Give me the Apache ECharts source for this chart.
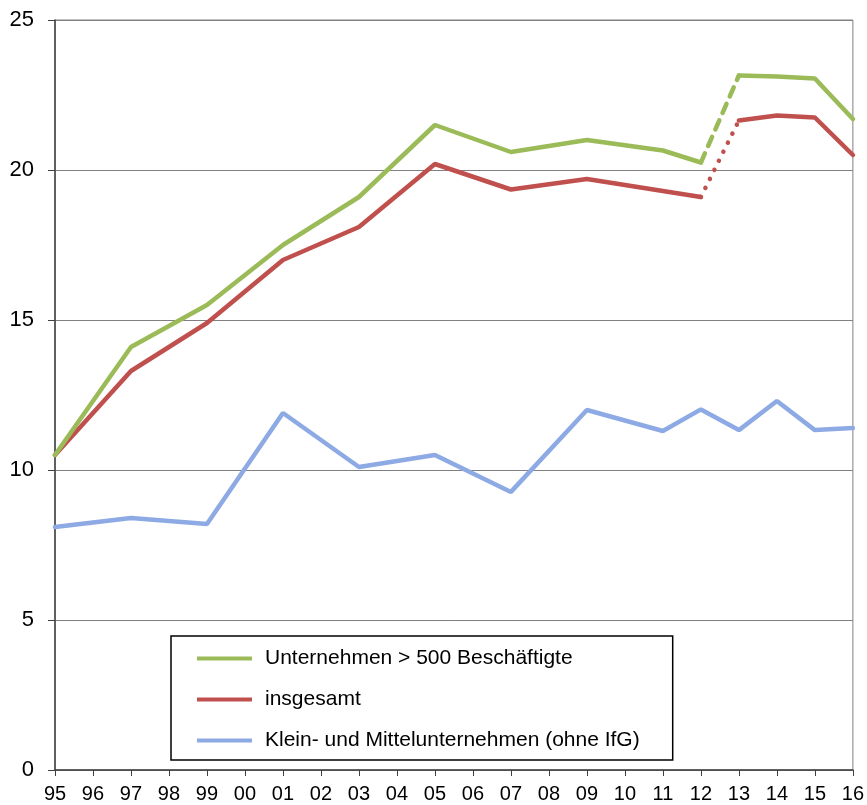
<!DOCTYPE html>
<html>
<head>
<meta charset="utf-8">
<script src="https://cdn.jsdelivr.net/npm/echarts@6/dist/echarts.min.js"></script>
<style>
  html, body { margin: 0; padding: 0; background: #fff; }
  #main { width: 867px; height: 805px; }
</style>
</head>
<body>
<div id="main"></div>
<script>
// Jahre 1995 - 2016
const years = ['95', '96', '97', '98', '99', '00', '01', '02', '03', '04', '05',
  '06', '07', '08', '09', '10', '11', '12', '13', '14', '15', '16']

// Werte (nur ungerade Jahre bis 2011, danach jährlich)
const grossUnternehmen = [10.5, null, 14.1, null, 15.5, null, 17.5, null, 19.1, null, 21.5,
  null, 20.6, null, 21.0, null, 20.65, 20.25, 23.15, 23.12, 23.05, 21.7]
const insgesamt = [10.5, null, 13.3, null, 14.9, null, 17.0, null, 18.1, null, 20.2,
  null, 19.35, null, 19.7, null, 19.3, 19.1, 21.65, 21.82, 21.75, 20.5]
const kmu = [8.1, null, 8.4, null, 8.2, null, 11.9, null, 10.1, null, 10.5,
  null, 9.27, null, 12.0, null, 11.3, 12.02, 11.33, 12.3, 11.33, 11.4]

const breakIndex = 17 // Bruch zwischen 12 und 13

const colGreen = '#9BBB59'
const colRed = '#C0504D'
const colBlue = '#8EAAE4'

// Teilreihen: vor dem Bruch, nach dem Bruch, Übergang
function part(arr, from, to) {
  return arr.map((v, i) => (i >= from && i <= to ? v : null))
}

function lineSeries(name, data, color, type) {
  return {
    name: name,
    type: 'line',
    data: data,
    connectNulls: true,
    symbol: 'none',
    animation: false,
    lineStyle: { color: color, width: 4.5, type: type || 'solid', cap: 'round' },
    itemStyle: { color: color }
  }
}

const chart = echarts.init(document.getElementById('main'))

const option = {
  backgroundColor: '#fff',
  grid: {
    left: 55,
    right: 13,
    top: 20,
    bottom: 35,
    show: true,
    borderColor: '#808080',
    borderWidth: 1
  },
  legend: {
    orient: 'vertical',
    left: 171,
    top: 636,
    data: ['Unternehmen > 500 Beschäftigte', 'insgesamt', 'Klein- und Mittelunternehmen (ohne IfG)'],
    borderColor: '#000',
    borderWidth: 1.5,
    padding: [12, 33, 9, 26],
    itemGap: 20,
    itemWidth: 55,
    itemHeight: 21,
    icon: 'path://M0,8.5 L55,8.5 L55,12.5 L0,12.5 Z',
    textStyle: { fontFamily: 'Liberation Sans, Arial', fontSize: 21, color: '#000', padding: [0, 0, 0, 8] }
  },
  xAxis: {
    type: 'category',
    data: years,
    boundaryGap: false,
    axisLine: { lineStyle: { color: '#404040', width: 1.5 } },
    axisTick: { show: true, length: 6, inside: false, interval: 0, lineStyle: { color: '#404040' } },
    axisLabel: {
      interval: 0,
      margin: 14,
      fontFamily: 'Liberation Sans, Arial',
      fontSize: 20,
      color: '#000'
    },
    splitLine: { show: false }
  },
  yAxis: {
    type: 'value',
    min: 0,
    max: 25,
    interval: 5,
    axisLine: { show: true, lineStyle: { color: '#404040', width: 1.5 } },
    axisTick: { show: true, length: 7, lineStyle: { color: '#404040' } },
    axisLabel: {
      margin: 21,
      fontFamily: 'Liberation Sans, Arial',
      fontSize: 22,
      color: '#000'
    },
    splitLine: { show: true, lineStyle: { color: '#808080', width: 1 } }
  },
  series: [
    lineSeries('Klein- und Mittelunternehmen (ohne IfG)', kmu, colBlue),
    lineSeries('insgesamt', part(insgesamt, 0, breakIndex), colRed),
    lineSeries('insgesamt_b', part(insgesamt, breakIndex + 1, years.length - 1), colRed),
    lineSeries('insgesamt_u', part(insgesamt, breakIndex, breakIndex + 1), colRed, [0.1, 10]),
    lineSeries('Unternehmen > 500 Beschäftigte', part(grossUnternehmen, 0, breakIndex), colGreen),
    lineSeries('gross_b', part(grossUnternehmen, breakIndex + 1, years.length - 1), colGreen),
    lineSeries('gross_u', part(grossUnternehmen, breakIndex, breakIndex + 1), colGreen, [10, 8])
  ]
}

chart.setOption(option)
</script>
</body>
</html>
